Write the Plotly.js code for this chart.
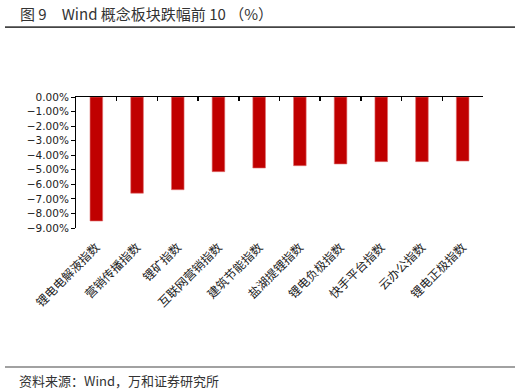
<!DOCTYPE html>
<html>
<head>
<meta charset="utf-8">
<script src="https://cdn.plot.ly/plotly-3.0.1.min.js"></script>
<style>html,body{margin:0;padding:0;background:#fff;}#chart{width:522px;height:391px;}</style>
</head>
<body>
<div id="chart"></div>
<script>
const categories = ["锂电电解液指数","营销传播指数","锂矿指数","互联网营销指数","建筑节能指数","盐湖提锂指数","锂电负极指数","快手平台指数","云办公指数","锂电正极指数"];
const changes = [-8.52,-6.61,-6.37,-5.13,-4.88,-4.72,-4.60,-4.44,-4.44,-4.40];
const yTicks = [0,-1,-2,-3,-4,-5,-6,-7,-8,-9];

const cjk = '"Noto Sans CJK SC", "Noto Sans", sans-serif';
const PW = 407, PH = 131, L = 76, T = 97;
const px = x => (x - L) / PW;
const py = y => (T + PH - y) / PH;

const traces = [
  {type:'bar', x:categories, y:changes, xaxis:'x', yaxis:'y',
   marker:{color:'#C00000', line:{color:'#E07070', width:0.6}}, width:0.31, hoverinfo:'x+y'},
  {type:'bar', x:categories, y:changes, xaxis:'x2', yaxis:'y',
   marker:{color:'rgba(0,0,0,0)'}, width:0.31, hoverinfo:'skip', showlegend:false}
];

const layout = {
  width:522, height:391,
  margin:{l:L, r:522-L-PW, t:T, b:391-T-PH},
  paper_bgcolor:'#fff', plot_bgcolor:'#fff',
  showlegend:false,
  xaxis:{type:'category', side:'top', showline:true, linecolor:'#000', linewidth:1.5,
         ticks:'inside', ticklen:4, tickwidth:1.5, tickcolor:'#000', tickson:'boundaries',
         showticklabels:false, showgrid:false, zeroline:false, fixedrange:true},
  xaxis2:{type:'category', overlaying:'x', anchor:'y', side:'bottom', showline:false, ticks:'',
          showgrid:false, zeroline:false, tickangle:-45, ticklabelstandoff:9,
          tickfont:{family:cjk, size:12, color:'#222'}},
  yaxis:{range:[-9,0], tickvals:yTicks, ticktext:yTicks.map(v=>(v<0?'\u2212':'')+Math.abs(v).toFixed(2)+'%'),
         showline:true, linecolor:'#000', linewidth:1, ticks:'outside', ticklen:4, tickcolor:'#000',
         showgrid:false, zeroline:false, tickfont:{family:'"DejaVu Sans", sans-serif', size:10.5, color:'#222'}},
  shapes:[
    {type:'line', xref:'paper', yref:'paper', x0:px(5), x1:px(515), y0:py(27), y1:py(27), line:{color:'#444', width:1.5}},
    {type:'line', xref:'paper', yref:'paper', x0:px(5), x1:px(515), y0:py(367), y1:py(367), line:{color:'#444', width:1.2}}
  ],
  annotations:[
    {text:' ', xref:'paper', yref:'paper', x:px(5), y:py(27), xanchor:'left', yanchor:'middle',
     width:510, height:1, bgcolor:'#444', borderpad:0, borderwidth:0, showarrow:false, font:{size:1}},
    {text:'图 9　Wind 概念板块跌幅前 10 （%）', xref:'paper', yref:'paper', x:px(18), y:py(13),
     xanchor:'left', yanchor:'middle', showarrow:false, font:{family:cjk, size:15, color:'#333'}},
    {text:'资料来源：Wind，万和证券研究所', xref:'paper', yref:'paper', x:px(17), y:py(380),
     xanchor:'left', yanchor:'middle', showarrow:false, font:{family:cjk, size:13, color:'#333'}}
  ]
};

Plotly.newPlot('chart', traces, layout, {displayModeBar:false, staticPlot:true});
</script>
</body>
</html>
